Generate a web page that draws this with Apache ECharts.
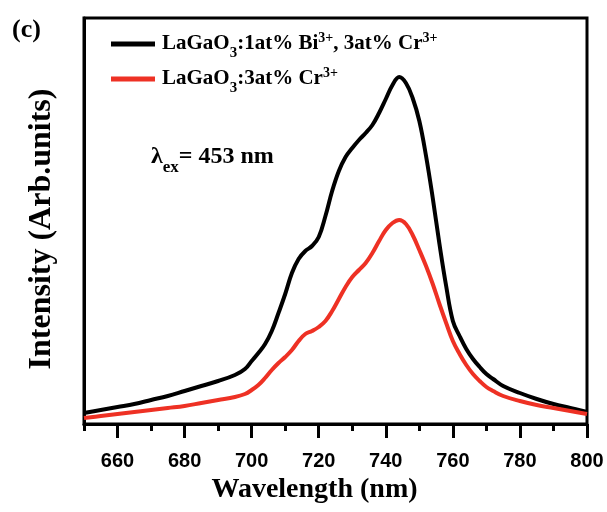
<!DOCTYPE html>
<html>
<head>
<meta charset="utf-8">
<script src="https://cdn.jsdelivr.net/npm/echarts@6/dist/echarts.min.js"></script>
<style>html,body{margin:0;padding:0;background:#fff;}#c{width:607px;height:512px;}</style>
</head>
<body>
<div id="c"></div>
<script>
var wavelengths = [650,655,660,665,670,675,680,685,690,695,698,700,702,704,706,708,710,712,714,716,718,720,722,724,726,728,730,732,734,736,738,740,742,744,746,748,750,752,754,756,758,760,762,764,766,768,770,772,775,780,785,790,795,800];
var biCrIntensity = [11,14,17,20,24,28,33,38,43,49,55,63,71,80,93,111,130,151,165,173,178,187,208,233,253,267,276,284,291,299,311,325,339,347,341,326,303,268,226,180,138,103,88,75,65,57,50,45,38,31,25,20,16,12];
var crIntensity = [6,8,10,12,14,16,18,21,24,27,30,34,39,46,54,61,67,74,83,90,93,97,103,113,125,137,147,154,161,171,183,194,201,204,200,189,174,158,140,120,101,83,70,59,50,43,37,33,28,23,19,16,13,10];
var majorTicks = [660,680,700,720,740,760,780,800];
var minorTicks = [650,670,690,710,730,750,770,790];
var seriesNames = ['LaGaO3:1at% Bi3+, 3at% Cr3+', 'LaGaO3:3at% Cr3+'];

function pairs(xs, ys) { return xs.map(function (x, i) { return [x, ys[i]]; }); }

var serif = '"Liberation Serif", "Times New Roman", serif';
var sans = '"Liberation Sans", Arial, sans-serif';
var chart = echarts.init(document.getElementById('c'), null, {renderer: 'canvas'});
chart.setOption({
  animation: false,
  backgroundColor: '#fff',
  grid: {left: 84, right: 20, top: 18, bottom: 88, show: true, borderColor: '#000', borderWidth: 3, containLabel: false},
  xAxis: [{
    type: 'value', min: 650, max: 800, position: 'bottom',
    axisLine: {show: true, lineStyle: {color: '#000', width: 3}},
    axisTick: {show: true, inside: false, length: 14, lineStyle: {color: '#000', width: 3}, customValues: majorTicks},
    axisLabel: {show: true, margin: 27, color: '#000', fontFamily: sans, fontWeight: 'bold', fontSize: 20, customValues: majorTicks},
    splitLine: {show: false},
    name: 'Wavelength (nm)', nameLocation: 'middle', nameGap: 52,
    nameTextStyle: {fontFamily: serif, fontWeight: 'bold', fontSize: 28, color: '#000', padding: [0, 42, 0, 0]}
  }, {
    type: 'value', min: 650, max: 800, position: 'bottom',
    axisLine: {show: false},
    axisTick: {show: true, inside: false, length: 7, lineStyle: {color: '#000', width: 3}, customValues: minorTicks},
    axisLabel: {show: false},
    splitLine: {show: false}
  }],
  yAxis: {
    type: 'value', min: 0, max: 406,
    axisLine: {show: true, lineStyle: {color: '#000', width: 3}},
    axisTick: {show: false}, axisLabel: {show: false}, splitLine: {show: false},
    name: 'Intensity (Arb.units)', nameLocation: 'middle', nameGap: 26,
    nameTextStyle: {fontFamily: serif, fontWeight: 'bold', fontSize: 32, color: '#000', padding: [0, 16, 0, 0]}
  },
  legend: {
    orient: 'vertical', left: 106, top: 26, itemWidth: 44, itemHeight: 5, itemGap: 5,
    icon: 'rect',
    data: seriesNames,
    formatter: function (name) {
      if (name === seriesNames[0]) return '{t|LaGaO}{sub|3}{t|:1at% Bi}{sup|3+}{t|, 3at% Cr}{sup|3+}';
      return '{t|LaGaO}{sub|3}{t|:3at% Cr}{sup|3+}';
    },
    textStyle: {
      color: '#000', padding: [0, 0, 0, 2],
      rich: {
        t: {fontFamily: serif, fontWeight: 'bold', fontSize: 21, color: '#000', lineHeight: 26},
        sub: {fontFamily: serif, fontWeight: 'bold', fontSize: 15, color: '#000', verticalAlign: 'bottom', lineHeight: 26, padding: [0, 0, -4, 0]},
        sup: {fontFamily: serif, fontWeight: 'bold', fontSize: 14, color: '#000', verticalAlign: 'top', lineHeight: 26}
      }
    }
  },
  graphic: [{
    type: 'text', left: 12, top: 17,
    style: {text: '(c)', font: 'bold 26px ' + serif, fill: '#000'}
  }, {
    type: 'text', left: 151, top: 145,
    style: {
      text: '{l|λ}{s|ex}{t|= 453 nm}',
      rich: {
        l: {font: 'bold 24px ' + serif, fill: '#000', lineHeight: 28},
        s: {font: 'bold 17px ' + serif, fill: '#000', verticalAlign: 'bottom', lineHeight: 28, padding: [0, 0, -5, 0]},
        t: {font: 'bold 24px ' + serif, fill: '#000', lineHeight: 28}
      }
    }
  }],
  series: [{
    name: seriesNames[0], type: 'line', xAxisIndex: 0, smooth: 0.4, showSymbol: false,
    data: pairs(wavelengths, biCrIntensity),
    lineStyle: {color: '#000', width: 4}, itemStyle: {color: '#000'}
  }, {
    name: seriesNames[1], type: 'line', xAxisIndex: 0, smooth: 0.4, showSymbol: false,
    data: pairs(wavelengths, crIntensity),
    lineStyle: {color: '#ee3124', width: 4}, itemStyle: {color: '#ee3124'}
  }]
});
</script>
</body>
</html>
